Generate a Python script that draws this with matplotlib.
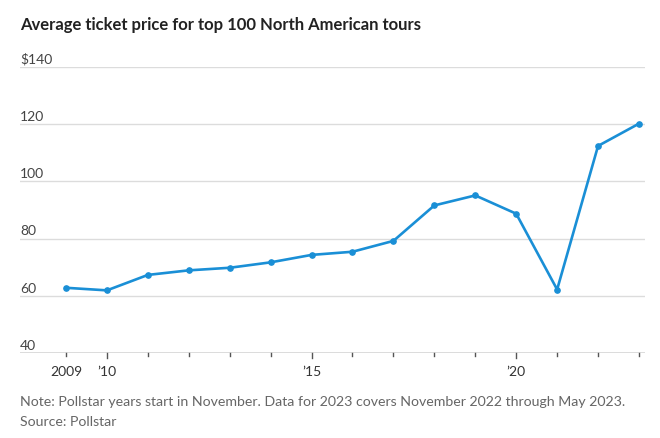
import numpy as np
import matplotlib
matplotlib.use('Agg')
from matplotlib import pyplot as plt
from matplotlib import transforms

# Data
years = [2009, 2010, 2011, 2012, 2013, 2014, 2015, 2016,
         2017, 2018, 2019, 2020, 2021, 2022, 2023]
prices = [62.8, 61.9, 67.3, 68.9, 69.8, 71.7, 74.3, 75.4,
          79.2, 91.6, 95.1, 88.7, 62.2, 112.4, 120.2]
ytick_vals = [40, 60, 80, 100, 120, 140]
ytick_labels = ['40', '60', '80', '100', '120', '$140']
xlabel_years = [2009, 2010, 2015, 2020]
xlabel_text = ['2009', '\u201910', '\u201915', '\u201920']

plt.rcParams['font.family'] = ['Lato', 'DejaVu Sans']

W, H = 660, 439
fig = plt.figure(figsize=(W / 100, H / 100), dpi=100)
left, right, top, bottom = 20, 645, 68, 354
ax = fig.add_axes([left / W, (H - bottom) / H, (right - left) / W, (bottom - top) / H])

line_color = '#1a8fd6'
ax.plot(years, prices, color=line_color, lw=1.9, marker='o', markersize=3.8,
        solid_joinstyle='round', zorder=3, clip_on=False)

ax.set_xlim(2007.876, 2023.147)
ax.set_ylim(40, 140)

for s in ax.spines.values():
    s.set_visible(False)
ax.set_yticks([])
ax.set_xticks([])

# gridlines + labels sitting on top of them
trans = transforms.blended_transform_factory(ax.transAxes, ax.transData)
for v, lab in zip(ytick_vals, ytick_labels):
    ax.axhline(v, color='#dcdcdc', lw=1.0 if v != 40 else 1.4, zorder=1)
    ax.text(0, v + 0.8, lab, transform=trans, ha='left', va='bottom',
            fontsize=10, color='#444444')

# x ticks
for yr in range(2009, 2024):
    major = yr in xlabel_years[1:]
    ax.plot([yr, yr], [40, 40 - (1.8 if major else 0.9)],
            color='#555555', lw=1.0, clip_on=False, zorder=2)
for yr, lab in zip(xlabel_years, xlabel_text):
    ax.text(yr, 40 - 4.3, lab, ha='center', va='top', fontsize=10, color='#333333')

fig.text(20 / W, 1 - 25 / H, 'Average ticket price for top 100 North American tours',
         ha='left', va='center', fontsize=12, fontweight='bold', color='#222222')
fig.text(20 / W, 1 - 402 / H,
         'Note: Pollstar years start in November. Data for 2023 covers November 2022 through May 2023.',
         ha='left', va='center', fontsize=10.2, color='#666666')
fig.text(20 / W, 1 - 422 / H, 'Source: Pollstar',
         ha='left', va='center', fontsize=10.2, color='#666666')

fig.savefig('out.png', dpi=100)
